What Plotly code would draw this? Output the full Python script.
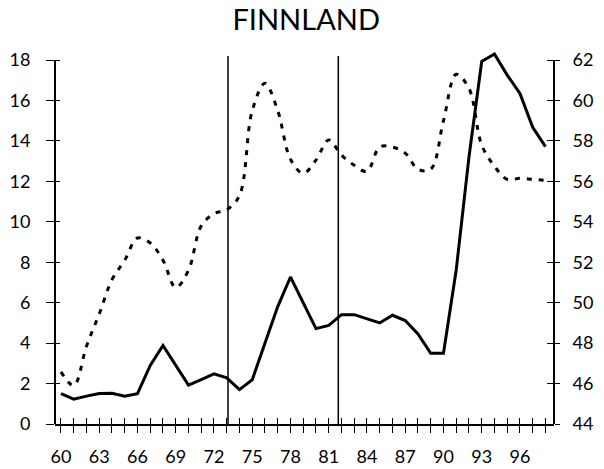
import plotly.graph_objects as go

# ---------------- data ----------------
years = list(range(1960, 1999))

solid_left = [1.50, 1.23, 1.38, 1.51, 1.52, 1.37, 1.50, 2.90, 3.88, 2.90,
              1.92, 2.20, 2.48, 2.28, 1.70, 2.19, 4.00, 5.81, 7.27, 5.98,
              4.72, 4.88, 5.41, 5.41, 5.20, 5.00, 5.38, 5.12, 4.45, 3.50,
              3.50, 7.62, 13.20, 17.93, 18.30, 17.26, 16.35, 14.68, 13.72]

dashed_right = [46.58, 45.90, 47.85, 49.44, 51.14, 52.10, 53.20, 52.95, 52.10, 50.75,
                51.60, 53.80, 54.40, 54.60, 55.30, 59.50, 60.85, 59.50, 57.10, 56.40,
                57.05, 58.05, 57.30, 56.80, 56.50, 57.70, 57.70, 57.40, 56.60, 56.60,
                59.00, 61.30, 60.60, 57.80, 56.75, 56.10, 56.15, 56.10, 56.05]

event_years = [1973.1, 1981.75]
event_top = 18.2

left_ticks = [0, 2, 4, 6, 8, 10, 12, 14, 16, 18]
right_ticks = [44, 46, 48, 50, 52, 54, 56, 58, 60, 62]
x_label_years = [1960, 1963, 1966, 1969, 1972, 1975, 1978, 1981, 1984, 1987, 1990, 1993, 1996]
x_ticktext = [str(y % 100) if y in x_label_years else "" for y in years]

title = "FINNLAND"

# ---------------- figure ----------------
FONT = "Lato"
xr = [1959.53, 1998.67]
yr_left = [0, 18.5]
yr_right = [44, 62.5]
left_top_frac = (left_ticks[-1] - yr_left[0]) / (yr_left[1] - yr_left[0])
right_top_frac = (right_ticks[-1] - yr_right[0]) / (yr_right[1] - yr_right[0])

fig = go.Figure()

# dashed series (right axis)
fig.add_trace(go.Scatter(x=years, y=dashed_right, mode="lines", xaxis="x", yaxis="y2",
                         line=dict(color="black", width=3, dash="5px,7px", shape="spline", smoothing=1.0),
                         hoverinfo="skip", showlegend=False))
# solid series (left axis)
fig.add_trace(go.Scatter(x=years, y=solid_left, mode="lines", xaxis="x", yaxis="y",
                         line=dict(color="black", width=3), hoverinfo="skip", showlegend=False))
# vertical event lines
for ev in event_years:
    fig.add_trace(go.Scatter(x=[ev, ev], y=[0, event_top], mode="lines", xaxis="x", yaxis="y",
                             line=dict(color="black", width=1.5), hoverinfo="skip", showlegend=False))

# invisible helpers so the overlay tick axes get drawn
for xa, ya, yv in [("x", "y5", left_ticks[0]), ("x", "y6", right_ticks[0]), ("x2", "y", left_ticks[0])]:
    fig.add_trace(go.Scatter(x=[years[0]], y=[yv], mode="markers", xaxis=xa, yaxis=ya,
                             marker=dict(opacity=0), hoverinfo="skip", showlegend=False))

# vertical axis lines (frame) ending at the top tick
for xf, yf in [(0, left_top_frac), (1, right_top_frac)]:
    fig.add_shape(type="line", xref="paper", yref="paper", x0=xf, x1=xf,
                  y0=0, y1=yf, line=dict(color="#000000", width=2), layer="above")

tickfont = dict(family=FONT, size=18, color="black")

fig.update_layout(
    width=604, height=469,
    margin=dict(l=55, r=50, t=50, b=45, autoexpand=False),
    paper_bgcolor="white", plot_bgcolor="white",
    title=dict(text=title, x=0.507, xanchor="center", y=0.957, yanchor="middle",
               font=dict(family=FONT, size=29, color="black")),
    xaxis=dict(range=xr, domain=[0, 1], anchor="y", showgrid=False, zeroline=False, automargin=False,
               showline=True, linecolor="black", linewidth=1.5,
               tickmode="array", tickvals=years, ticktext=x_ticktext,
               ticks="outside", ticklen=7, tickwidth=1.2, tickcolor="black",
               ticklabelstandoff=9, tickfont=tickfont),
    xaxis2=dict(range=xr, overlaying="x", anchor="y", showgrid=False, zeroline=False,
                showline=False, tickmode="array", tickvals=years, showticklabels=False,
                ticks="inside", ticklen=6, tickwidth=1.2, tickcolor="black"),
    yaxis=dict(range=yr_left, domain=[0, 1], anchor="x", side="left", showgrid=False, zeroline=False,
               automargin=False, showline=False, tickmode="array", tickvals=left_ticks,
               ticks="outside", ticklen=8, tickwidth=1.2, tickcolor="black",
               ticklabelstandoff=12, tickfont=tickfont),
    yaxis2=dict(range=yr_right, overlaying="y", anchor="x", side="right", showgrid=False, zeroline=False,
                automargin=False, showline=False, tickmode="array", tickvals=right_ticks,
                ticks="outside", ticklen=5, tickwidth=1.2, tickcolor="black",
                ticklabelstandoff=9, tickfont=tickfont),
    yaxis5=dict(range=yr_left, overlaying="y", anchor="x", side="left", showgrid=False, zeroline=False,
                showline=False, tickmode="array", tickvals=left_ticks, showticklabels=False,
                ticks="inside", ticklen=5, tickwidth=1.2, tickcolor="black"),
    yaxis6=dict(range=yr_right, overlaying="y", anchor="x", side="right", showgrid=False, zeroline=False,
                showline=False, tickmode="array", tickvals=right_ticks, showticklabels=False,
                ticks="inside", ticklen=7, tickwidth=1.2, tickcolor="black"),
)

fig.write_html("out.html", config={"displayModeBar": False},
               post_script="document.body.style.margin='0';")
